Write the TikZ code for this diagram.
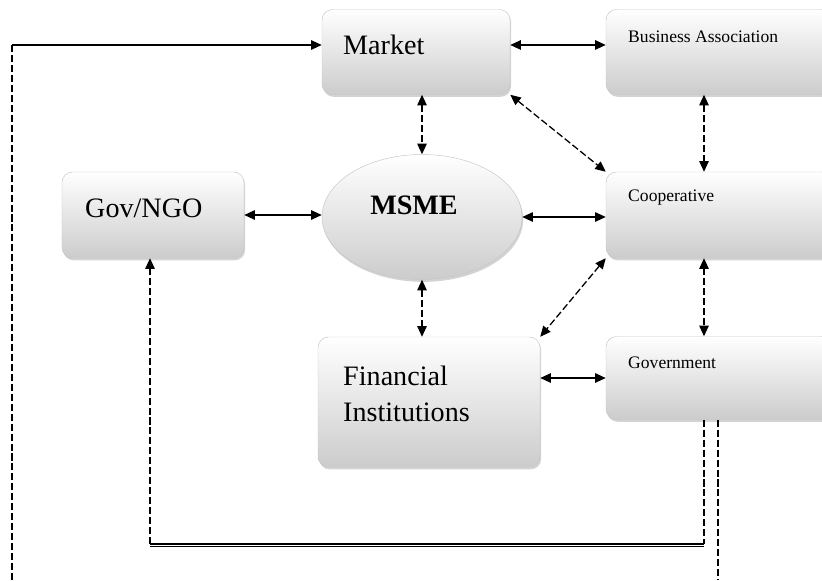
\documentclass[tikz,border=0pt]{standalone}
\usepackage{fontspec}
\setmainfont{Liberation Serif}
\usetikzlibrary{arrows.meta,shadows,shapes.geometric}
\tikzset{
  head/.tip={Triangle[length=9pt,width=8pt]},
  actor/.style={draw=gray!45, rounded corners=9pt, top color=white, bottom color=gray!40,
    drop shadow={shadow xshift=1pt, shadow yshift=-2pt, opacity=.35}},
  link/.style={line width=1.1pt, head-head},
  dlink/.style={link, dash pattern=on 6pt off 2.5pt},
  dline/.style={line width=1.1pt, dash pattern=on 6pt off 2.5pt},
  big/.style={font=\fontsize{24}{31}\selectfont, inner sep=0pt, anchor=west},
  small/.style={font=\fontsize{15}{18}\selectfont, inner sep=0pt, anchor=west}
}
\begin{document}
\begin{tikzpicture}[x=0.03cm, y=-0.03cm]
  \useasboundingbox (0,0) rectangle (822,580);
  % boxes
  \node[actor, minimum width=5.64cm, minimum height=2.55cm] (market) at (416,52) {};
  \node[actor, minimum width=6.78cm, minimum height=2.55cm] (busass) at (719,52) {};
  \node[actor, minimum width=5.46cm, minimum height=2.58cm] (govngo) at (153,215) {};
  \node[actor, ellipse, minimum width=6cm, minimum height=3.75cm] (msme) at (422,217) {};
  \node[actor, minimum width=6.78cm, minimum height=2.58cm] (coop) at (719,215) {};
  \node[actor, minimum width=6.66cm, minimum height=3.9cm] (finst) at (429,402) {};
  \node[actor, minimum width=6.78cm, minimum height=2.49cm] (govt) at (719,378) {};
  % texts
  \node[big] (tmarket) at (343,45) {Market};
  \node[small] (tbusass) at (628,37) {Business Association};
  \node[big] (tgovngo) at (85,208) {Gov/NGO};
  \node[big, anchor=center, font=\fontsize{24}{31}\selectfont\bfseries] (tmsme) at (414,205) {MSME};
  \node[small] (tcoop) at (628,198) {Cooperative};
  \node[big, align=left] (tfinst) at (343,394) {Financial\\Institutions};
  \node[small] (tgovt) at (628,363) {Government};
  % helper points
  \coordinate (loopA) at (12,45);
  \coordinate (loopB) at (12,580);
  \coordinate (vx) at (704,0);
  \coordinate (vy) at (718,580);
  \coordinate (cR) at (704,544);
  \coordinate (cL) at (150,544);
  % connectors
  \draw[dline] (loopB) -- (loopA);
  \draw[line width=1.1pt, -head] (loopA) -- (loopA -| market.west);
  \draw[link] ([yshift=6pt]market.east) -- ([yshift=6pt]busass.west);
  \draw[dlink] (msme.north |- market.south) -- (msme.north);
  \draw[dlink] (market.south east) -- (coop.north west);
  \draw[dlink] (vx |- busass.south) -- (vx |- coop.north);
  \draw[link] (govngo.east) -- (govngo.east -| msme.west);
  \draw[link] (msme.east) -- (msme.east -| coop.west);
  \draw[dlink] (msme.south) -- (msme.south |- finst.north);
  \draw[dlink] (coop.south west) -- (finst.north east);
  \draw[dlink] (vx |- coop.south) -- (vx |- govt.north);
  \draw[link] (finst.east |- govt.west) -- (govt.west);
  \draw[dline] (vx |- govt.south) -- (cR);
  \draw[line width=1pt] (cR) -- (cL);
  \draw[line width=.8pt] ([yshift=-2.5pt]cR) -- ([yshift=-2.5pt]cL);
  \draw[dline, -head] (cL) -- (cL |- govngo.south);
  \draw[dline] (vy |- govt.south) -- (vy);
\end{tikzpicture}
\end{document}
